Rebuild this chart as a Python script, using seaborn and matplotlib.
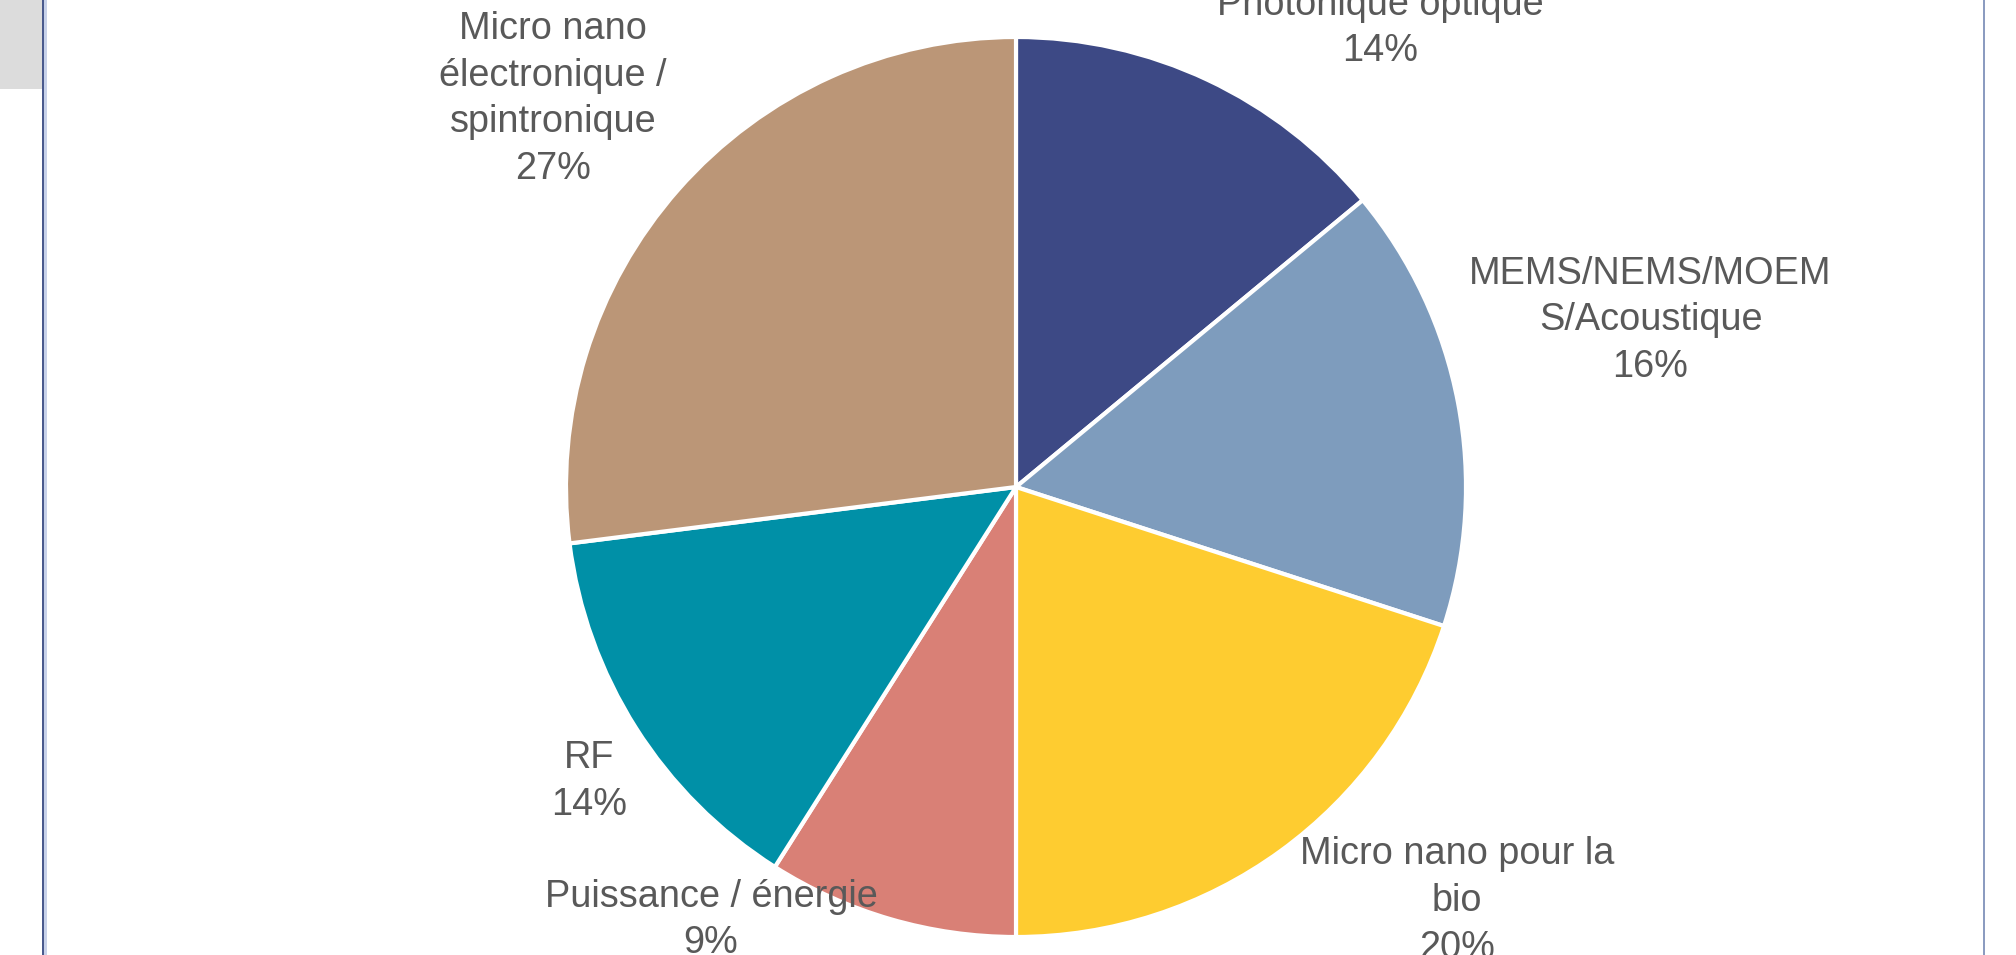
import matplotlib
matplotlib.use("Agg")
import matplotlib.pyplot as plt
import seaborn as sns
from matplotlib.patches import Rectangle

# data, clockwise from 12 o'clock
categories = ["Photonique optique", "MEMS/NEMS/MOEM\nS/Acoustique", "Micro nano pour la\nbio",
              "Puissance / énergie", "RF", "Micro nano\nélectronique /\nspintronique"]
shares = [14, 16, 20, 9, 14, 27]
slice_colors = ["#3D4985", "#7E9CBD", "#FECC30", "#D98076", "#0090A7", "#BB9677"]

# label centres in pie units (radius = 1), placed like the Excel best-fit layout
label_pos = [(0.81, 1.02), (1.41, 0.37), (0.98, -0.92),
             (-0.678, -0.962), (-0.949, -0.655), (-1.029, 0.862)]

sns.set_theme(style="white")
plt.rcParams["font.family"] = ["Liberation Sans", "DejaVu Sans"]

W, H = 2016, 955
fig = plt.figure(figsize=(W / 100, H / 100), dpi=100)
fig.patch.set_facecolor("white")

cx, cy, r = 1016, 487, 450
ax = fig.add_axes([(cx - r) / W, (H - cy - r) / H, 2 * r / W, 2 * r / H])

pal = sns.color_palette(slice_colors)
wedges, texts = ax.pie(shares, colors=pal, startangle=90, counterclock=False,
                       radius=1, wedgeprops=dict(edgecolor="white", linewidth=3))
for (x, y), cat, val in zip(label_pos, categories, shares):
    ax.text(x, y, f"{cat}\n{val}%", ha="center", va="center", multialignment="center",
            fontsize=27.3, color="#595959", linespacing=1.38)
ax.set_xlim(-1, 1)
ax.set_ylim(-1, 1)
ax.set_aspect("equal")
ax.axis("off")

# window chrome around the chart
fig.patches.append(Rectangle((0, 1 - 89 / H), 42 / W, 89 / H, transform=fig.transFigure,
                             facecolor="#DCDCDC", edgecolor="none", zorder=0))
fig.patches.append(Rectangle((42 / W, 0), 2 / W, 1, transform=fig.transFigure,
                             facecolor="#4A5A8E", edgecolor="none", zorder=1))
fig.patches.append(Rectangle((44 / W, 0), 3 / W, 1, transform=fig.transFigure,
                             facecolor="#C8D2EA", edgecolor="none", zorder=1))
fig.patches.append(Rectangle((1983 / W, 0), 2 / W, 1, transform=fig.transFigure,
                             facecolor="#8C9CC0", edgecolor="none", zorder=1))

fig.savefig("out.png", dpi=100)
